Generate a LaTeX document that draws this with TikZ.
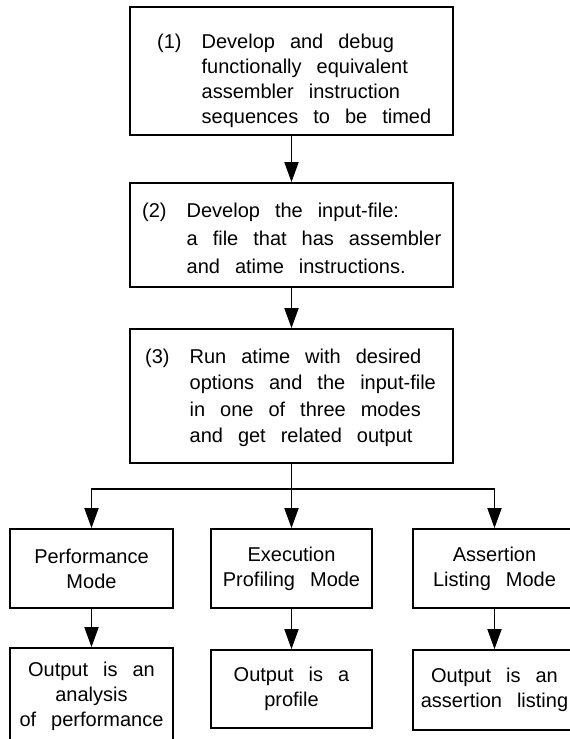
\documentclass[tikz,border=0pt]{standalone}
\usepackage{fontspec}
\setmainfont[WordSpace=2.7]{Liberation Sans}
\usetikzlibrary{arrows.meta}
\begin{document}
\begin{tikzpicture}[x=1pt,y=-1pt,
  box/.style={draw, line width=1.8pt, rectangle, inner sep=0pt},
  modetext/.style={align=center, font=\fontsize{20}{25}\selectfont},
  arr/.style={line width=1.8pt, -{Triangle[length=20pt,width=14pt]}},
  steptext/.style={inner sep=0pt, anchor=base west}]
\useasboundingbox (0,0) rectangle (570,739);
\clip (0,0) rectangle (570,739);
% main boxes
\node[box, minimum width=323pt, minimum height=128pt] (b1) at (291.5,71) {};
\node[box, minimum width=323pt, minimum height=104pt] (b2) at (291.5,235) {};
\node[box, minimum width=323pt, minimum height=134pt] (b3) at (291.5,396) {};
\node[steptext, font=\fontsize{20}{25}\selectfont] (t1) at (157,48) {\begin{tabular}[t]{@{}l@{\hspace{20pt}}l@{}}(1) & Develop and debug\\ & functionally equivalent\\ & assembler instruction\\ & sequences to be timed\end{tabular}};
\node[steptext, font=\fontsize{20}{28}\selectfont] (t2) at (142,217) {\begin{tabular}[t]{@{}l@{\hspace{20pt}}l@{}}(2) & Develop the input-file:\\ & a file that has assembler\\ & and atime instructions.\end{tabular}};
\node[steptext, font=\fontsize{20}{26.5}\selectfont] (t3) at (145,363) {\begin{tabular}[t]{@{}l@{\hspace{20pt}}l@{}}(3) & Run atime with desired\\ & options and the input-file\\ & in one of three modes\\ & and get related output\end{tabular}};
% mode boxes
\node[box, modetext, minimum width=163pt, minimum height=79pt] (m1) at (91.5,568.5) {Performance\\Mode};
\node[box, modetext, minimum width=161pt, minimum height=79pt] (m2) at (291.5,568.5) {Execution\\Profiling Mode};
\node[box, modetext, minimum width=163pt, minimum height=79pt] (m3) at (494.5,568.5) {Assertion\\Listing Mode};
% output boxes
\node[box, modetext, minimum width=163pt, minimum height=97pt] (o1) at (91.5,696.5) {Output is an\\analysis\\of performance};
\node[box, modetext, minimum width=161pt, minimum height=78pt] (o2) at (291.5,689) {Output is a\\profile};
\node[box, modetext, minimum width=163pt, minimum height=80pt] (o3) at (494.5,690) {Output is an\\assertion listing};
% connectors
\coordinate (j) at (291.5,489);
\draw[arr] (b1.south) -- (b2.north);
\draw[arr] (b2.south) -- (b3.north);
\draw[arr] (b3.south) -- (m2.north);
\draw[arr] (j) -| (m1.north);
\draw[arr] (j) -| (m3.north);
\draw[arr] (m1.south) -- (o1.north);
\draw[arr] (m2.south) -- (o2.north);
\draw[arr] (m3.south) -- (o3.north);
\end{tikzpicture}
\end{document}
